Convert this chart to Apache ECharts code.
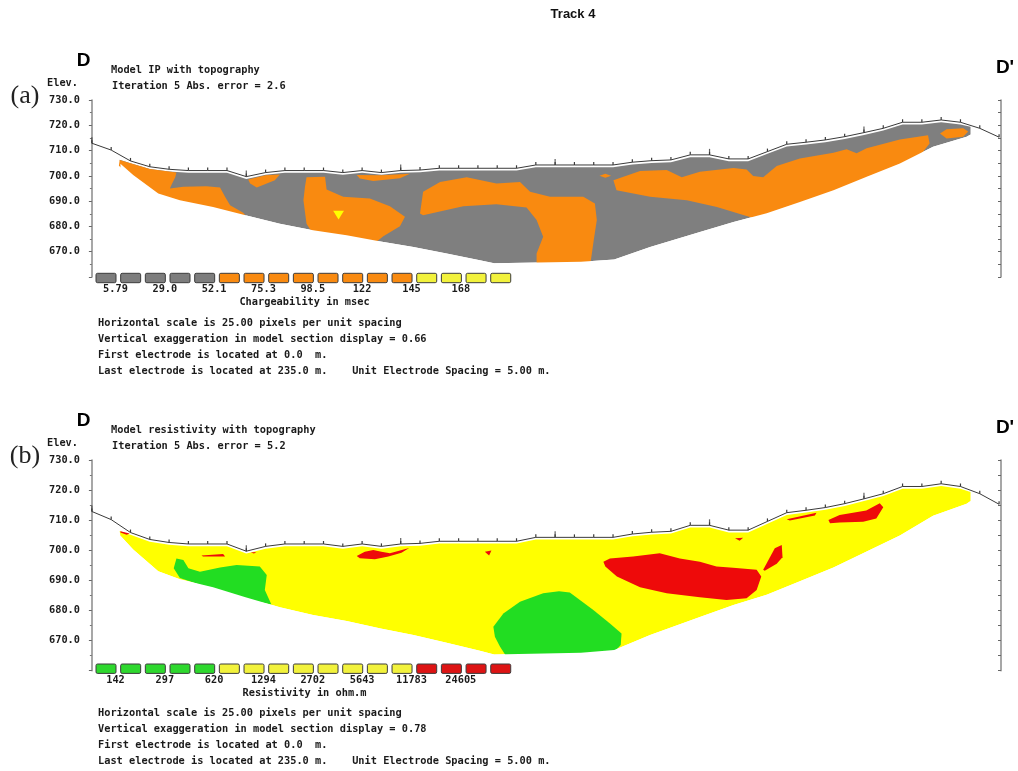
<!DOCTYPE html>
<html><head><meta charset="utf-8">
<script src="https://cdn.jsdelivr.net/npm/echarts@6/dist/echarts.min.js"></script>
<style>html,body{margin:0;padding:0;background:#fff}#c{width:1018px;height:771px}</style>
</head><body><div id="c"></div>
<script>
// ================= DATA =================
const electrodePositions = [0,5,10,15,20,25,30,35,40,45,50,55,60,65,70,75,80,85,90,95,100,105,110,115,120,125,130,135,140,145,150,155,160,165,170,175,180,185,190,195,200,205,210,215,220,225,230,235];
const topography = [712.9,710.2,705.9,703.6,702.6,702.1,702.1,702.1,699.7,701.3,702.1,702.1,702.1,701.3,702.1,701.3,702.1,702.3,703.0,703.0,703.0,703.0,703.0,704.3,704.3,704.3,704.3,704.3,705.4,706.0,706.3,708.3,708.3,706.7,706.7,709.6,712.5,713.3,714.2,715.5,717.1,718.8,721.2,721.2,722.1,721.2,718.8,715.3];
const distanceLabels = [0,40,80,120,160,200];
const elevationRange = [660,730];

// model section lower boundary [distance m, elevation m], left tip -> right tip
const sectionBottom = [[7.4,704.8],[10.7,700.3],[17.2,693.0],[22.8,690.4],[31.4,687.7],[39.8,684.4],[48.7,681.1],[57.3,678.5],[66.0,676.5],[74.8,674.0],[83.3,671.9],[91.9,669.3],[100.5,666.6],[104.2,665.4],[126.7,666.0],[135.3,666.9],[144.6,671.9],[157.5,677.8],[166.2,681.8],[174.8,685.2],[183.4,689.7],[192.1,694.3],[200.7,699.6],[209.3,704.9],[217.9,711.5],[226.6,715.5],[227.6,716.4]];
const sectionLeftTop = [7.2,706.4];
const sectionRightTop = [227.6,719.4];

// (a) chargeability zones
const ipOrangeZones = [
  [[7.2,706.3],[10,705.0],[15,702.7],[20,701.7],[21.9,701.3],[21.6,699.4],[20.7,696.7],[20.2,695.0],[23.7,695.7],[29.7,695.9],[33.2,695.4],[34.5,691.7],[35.8,688.4],[39.2,685.4],[40.5,683.0],[31.0,686.0],[22.8,689.0],[17.2,691.5],[10.7,699.0],[7.0,704.0]],
  [[40.5,698.6],[45,700.2],[48.7,700.5],[47.4,698.3],[44.5,696.5],[42.7,695.4],[41.0,697.0]],
  [[55.6,699.4],[60.4,699.6],[60.8,694.6],[65.1,691.7],[72.0,691.0],[77.2,688.0],[81.1,683.8],[79.8,680.1],[75.5,676.1],[72.9,673.0],[66.0,675.0],[57.3,677.0],[55.6,681.1],[54.8,690.4],[55.2,695.7]],
  [[68.6,700.3],[75,700.2],[82.4,700.8],[79.8,699.1],[72.9,698.0],[69.4,699.0]],
  [[85.0,685.1],[85.8,693.7],[90.2,697.6],[97.1,699.4],[104.8,697.0],[110.9,697.6],[113.5,693.7],[118.7,691.7],[127.3,691.7],[130.3,689.1],[130.8,682.5],[130.0,674.5],[129.1,664.8],[115.2,664.6],[115.2,669.3],[116.9,675.9],[115.2,682.5],[112.6,687.5],[104.8,688.8],[96.2,688.0],[85.8,684.4]],
  [[135.1,698.3],[142.0,701.9],[148.9,702.3],[152.8,699.4],[157.5,701.6],[166.2,703.1],[169.6,702.5],[171.3,699.9],[173.9,699.4],[177.4,703.9],[183.4,706.9],[192.1,709.1],[195.5,710.5],[198.1,708.9],[200.7,710.9],[209.3,714.4],[216.6,716.1],[217.0,712.8],[214.5,708.0],[209.3,703.5],[200.7,698.2],[192.1,693.0],[183.4,688.3],[174.8,683.8],[171.3,683.3],[161.9,687.7],[154.1,690.4],[144.6,691.7],[135.9,694.3]],
  [[219.7,716.8],[221.4,718.4],[225.7,718.8],[227.0,717.5],[225.7,715.5],[221.4,714.8]],
  [[131.5,700.0],[133.0,700.8],[134.5,700.0],[133.0,699.3]]
];
const ipYellowZones = [
  [[62.5,686.2],[65.3,686.2],[63.9,682.7]]
];

// (b) resistivity zones
const resGreenZones = [
  [[21.9,697.3],[23.7,696.8],[25.0,694.0],[28.0,692.9],[33.2,694.3],[37.5,695.1],[43.5,694.6],[45.3,691.8],[44.8,686.8],[46.5,682.0],[35.8,685.0],[27.1,689.0],[22.8,690.8],[21.2,694.0]],
  [[104.4,671.3],[104.0,674.6],[106.6,679.0],[110.9,682.9],[116.9,685.7],[121.0,686.4],[123.8,686.0],[129.9,680.2],[134.2,675.7],[137.2,672.4],[137.0,668.5],[135.1,666.0],[107.4,664.6],[105.7,668.0]]
];
const resRedZones = [
  [[132.5,696.2],[134.2,697.3],[140.2,697.9],[147.1,699.0],[152.3,697.3],[157.5,696.2],[161.8,694.6],[166.1,694.2],[172.2,693.5],[173.4,691.3],[172.2,686.8],[169.6,684.1],[164.4,683.5],[157.5,684.4],[148.9,685.7],[142.0,687.7],[136.0,691.3],[133.0,694.6]],
  [[173.9,693.5],[176.9,700.7],[178.7,701.8],[178.9,697.7],[177.4,695.5],[174.3,693.2]],
  [[190.8,710.1],[193.7,711.7],[200.6,713.2],[204.1,715.6],[205.0,714.3],[203.2,710.6],[199.8,709.5],[193.7,709.2],[191.2,709.0]],
  [[180.0,710.3],[187.7,712.5],[187.3,711.6],[180.8,709.9]],
  [[166.6,704.0],[168.7,704.2],[167.8,703.2]],
  [[28.4,698.3],[34.0,698.8],[34.5,697.9],[28.8,697.9]],
  [[41.2,699.3],[42.6,699.4],[42.0,698.9]],
  [[68.6,698.1],[70.7,699.5],[72.9,700.1],[75.0,699.5],[77.2,699.0],[82.2,700.8],[80.2,699.2],[76.8,697.9],[73.3,697.0],[69.4,697.4]],
  [[101.8,699.5],[103.5,699.9],[102.9,698.3]],
  [[7.4,706.3],[9.8,705.6],[9.0,705.2],[7.4,705.9]]
];

// legends
const ipClassCounts = [5,8,4];
const ipLegendLabels = ['5.79','29.0','52.1','75.3','98.5','122','145','168'];
const resClassCounts = [5,8,4];
const resLegendLabels = ['142','297','620','1294','2702','5643','11783','24605'];

// texts
const chartTitle = 'Track 4';
const ipTitle = ['Model IP with topography','Iteration 5 Abs. error = 2.6'];
const resTitle = ['Model resistivity with topography','Iteration 5 Abs. error = 5.2'];
const ipCaption = 'Chargeability in msec';
const resCaption = 'Resistivity in ohm.m';
const ipInfo = ['Horizontal scale is 25.00 pixels per unit spacing','Vertical exaggeration in model section display = 0.66','First electrode is located at 0.0  m.','Last electrode is located at 235.0 m.    Unit Electrode Spacing = 5.00 m.'];
const resInfo = ['Horizontal scale is 25.00 pixels per unit spacing','Vertical exaggeration in model section display = 0.78','First electrode is located at 0.0  m.','Last electrode is located at 235.0 m.    Unit Electrode Spacing = 5.00 m.'];

// ================= STYLE / LAYOUT =================
const C = {gray:'#7f7f7f', orange:'#f98a10', yellow:'#ffff00', green:'#22dd22', red:'#ee0a0a', line:'#3a3a3a'};
const MONO = 'bold 10.3px "DejaVu Sans Mono"';
const grids = [{left:83,right:17,top:100,height:177},{left:83,right:17,top:460,height:210.7}];
const xRange = [-2.3,235.5];

const topoPts = electrodePositions.map((d,i)=>[d,topography[i]]);
function topoAt(x){
  for(let i=0;i<electrodePositions.length-1;i++){
    const a=electrodePositions[i],b=electrodePositions[i+1];
    if(x>=a&&x<=b){return topography[i]+(topography[i+1]-topography[i])*(x-a)/(b-a);}
  }
  return topography[topography.length-1];
}
function localMax(x){
  let m=-1e9; electrodePositions.forEach((d,i)=>{if(Math.abs(d-x)<=5.01)m=Math.max(m,topography[i]);}); return m;
}
function sectionPoly(gap){
  const top=[sectionLeftTop];
  electrodePositions.forEach((d,i)=>{ if(d>=10&&d<=225) top.push([d,topography[i]-gap]); });
  top.push(sectionRightTop);
  return top.concat(sectionBottom.slice().reverse());
}
const maskPoly = sectionBottom.concat([[sectionBottom[sectionBottom.length-1][0],660.2],[sectionBottom[0][0],660.2]]);

function polySeries(g, polys, color, z){
  return {type:'custom', xAxisIndex:g, yAxisIndex:g*2, z, silent:true, clip:false, animation:false,
    data: polys.map((p,i)=>[p[0][0],p[0][1]]),
    renderItem:(params,api)=>({type:'polygon', shape:{points: polys[params.dataIndex].map(pt=>api.coord(pt))}, style:{fill:color}})
  };
}
function panelSeries(g, fill, zones, gap){
  const s=[];
  s.push(polySeries(g,[sectionPoly(gap)],fill,1));
  zones.forEach(zn=>s.push(polySeries(g,zn.polys,zn.color,2)));
  s.push(polySeries(g,[maskPoly],'#ffffff',3));
  s.push({type:'line', xAxisIndex:g, yAxisIndex:g*2, z:5, data:topoPts, animation:false, silent:true,
    lineStyle:{color:C.line,width:1}, symbol:'rect', symbolSize:[1.2,3], symbolOffset:[0,-1.5], showAllSymbol:true,
    itemStyle:{color:C.line}});
  s.push({type:'scatter', xAxisIndex:g, yAxisIndex:g*2, z:6, silent:true, animation:false,
    data: distanceLabels.map(d=>[d,topoAt(d)]), symbol:'rect', symbolSize:[1.2,6], symbolOffset:[0,-3], itemStyle:{color:C.line}});
  s.push({type:'scatter', xAxisIndex:g, yAxisIndex:g*2, z:7, silent:true, animation:false,
    data: distanceLabels.map((d,i)=>i===0?{value:[d,localMax(d)],label:{offset:[5,0]}}:{value:[d,localMax(d)]}),
    symbolSize:1, itemStyle:{opacity:0},
    label:{show:true, position:'top', distance:4, formatter:p=>p.value[0].toFixed(1), fontFamily:'DejaVu Sans Mono', fontWeight:'bold', fontSize:10.3, color:'#1a1a1a'}});
  return s;
}
function yAxes(g){
  return [
    {gridIndex:g, type:'value', position:'left', min:elevationRange[0], max:elevationRange[1], interval:10,
     axisLine:{show:true,lineStyle:{color:'#8a8a8a',width:1.5}},
     axisTick:{show:true,length:3,lineStyle:{color:'#666'}},
     minorTick:{show:true,splitNumber:2,length:2,lineStyle:{color:'#777'}},
     splitLine:{show:false},
     axisLabel:{formatter:v=>v===elevationRange[0]?'':v.toFixed(1), fontFamily:'DejaVu Sans Mono', fontWeight:'bold', fontSize:10.3, color:'#1a1a1a', margin:3}},
    {gridIndex:g, type:'value', position:'right', min:elevationRange[0], max:elevationRange[1], interval:5,
     axisLine:{show:true,lineStyle:{color:'#8a8a8a',width:1.5}},
     axisTick:{show:true,inside:true,length:3,lineStyle:{color:'#666'}},
     splitLine:{show:false}, axisLabel:{show:false}}
  ];
}

// graphics
const graphics=[];
function txt(text,x,y,font,align,color){graphics.push({type:'text',x,y,z:100,silent:true,style:{text,font,fill:color||'#111',align:align||'left',verticalAlign:'middle'}});}
txt(chartTitle,573,14,'bold 13px "Liberation Sans"','center','#111');
function panelText(y0, titles, letter){
  txt('D',83.5,y0-39,'bold 19px "Liberation Sans"','center','#000');
  txt("D'",1005,y0-32,'bold 19px "Liberation Sans"','center','#000');
  txt(letter,25,y0-4,'26px "Liberation Serif"','center','#222');
  txt('Elev.',47,y0-17,MONO,'left','#1a1a1a');
  txt(titles[0],111,y0-30,MONO,'left','#1a1a1a');
  txt(titles[1],112,y0-14,MONO,'left','#1a1a1a');
}
function legend(ly, counts, colors, labels, caption, info, infoY){
  let k=0;
  counts.forEach((n,ci)=>{for(let j=0;j<n;j++){
    graphics.push({type:'rect',z:100,silent:true,shape:{x:96+24.67*k,y:ly,width:20,height:9.4,r:1.5},style:{fill:colors[ci],stroke:'#3c3c3c',lineWidth:1}});
    k++;}});
  labels.forEach((l,i)=>txt(l,115.5+49.33*i,ly+16.2,MONO,'center','#1a1a1a'));
  txt(caption,304.5,ly+29.3,MONO,'center','#1a1a1a');
  info.forEach((l,i)=>txt(l,98,infoY+16*i,MONO,'left','#1a1a1a'));
}
panelText(100, ipTitle, '(a)');
panelText(460, resTitle, '(b)');
legend(273.3, ipClassCounts, ['#7d7d7d',C.orange,'#f2f23c'], ipLegendLabels, ipCaption, ipInfo, 323.5);
legend(664, resClassCounts, ['#2ed82e','#f2f23c','#dd1414'], resLegendLabels, resCaption, resInfo, 713.5);

const option={
  animation:false,
  backgroundColor:'#ffffff',
  grid:grids,
  xAxis:[0,1].map(g=>({gridIndex:g,type:'value',min:xRange[0],max:xRange[1],show:false})),
  yAxis:yAxes(0).concat(yAxes(1)),
  series:[].concat(
    panelSeries(0,C.gray,[{polys:ipOrangeZones,color:C.orange},{polys:ipYellowZones,color:C.yellow}],0.9),
    panelSeries(1,C.yellow,[{polys:resGreenZones,color:C.green},{polys:resRedZones,color:C.red}],0.75)
  ),
  graphic:graphics
};
const chart=echarts.init(document.getElementById('c'),null,{renderer:'canvas'});
chart.setOption(option);
</script></body></html>
